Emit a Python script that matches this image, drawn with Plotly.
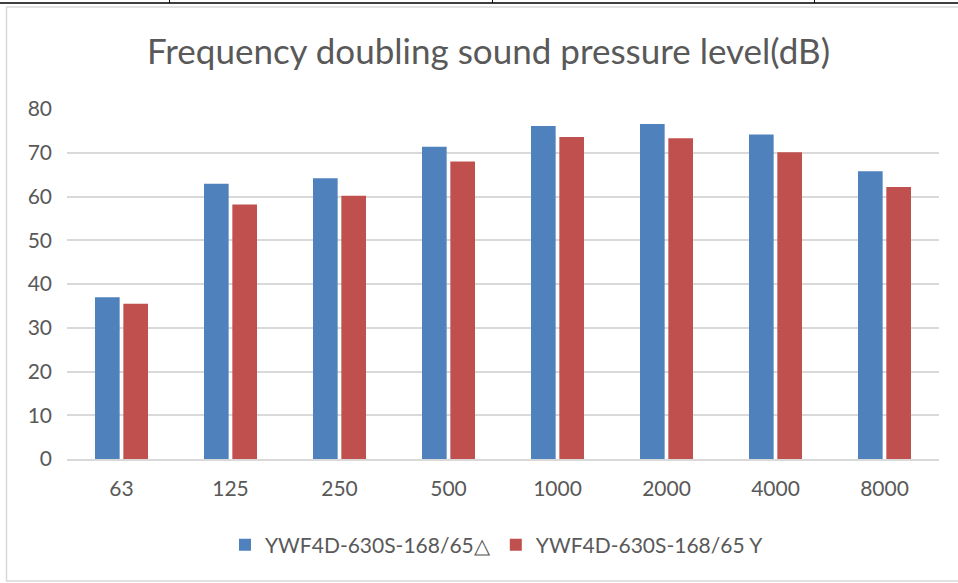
import plotly.graph_objects as go

categories = ["63", "125", "250", "500", "1000", "2000", "4000", "8000"]
series_a_name = "YWF4D-630S-168/65△"
series_b_name = "YWF4D-630S-168/65 Y"
series_a = [37.0, 62.9, 64.2, 71.4, 76.1, 76.6, 74.2, 65.8]
series_b = [35.5, 58.2, 60.2, 68.0, 73.6, 73.3, 70.1, 62.2]
y_ticks = [0, 10, 20, 30, 40, 50, 60, 70, 80]
title_text = "Frequency doubling sound pressure level(dB)"

W, H = 958, 583
L, R, T, B = 67, 19, 109, 124
FONT = "Lato"
GREY = "#595959"

fig = go.Figure()
fig.add_trace(go.Bar(x=categories, y=series_a, name=series_a_name,
                     marker=dict(color="#4F81BD", line=dict(width=0))))
fig.add_trace(go.Bar(x=categories, y=series_b, name=series_b_name,
                     marker=dict(color="#C0504D", line=dict(width=0))))

def px_x(p):
    return (p - L) / (W - L - R)

def px_y(p):
    return 1 - (p - T) / (H - T - B)

shapes = [
    dict(type="rect", xref="paper", yref="paper",
         x0=px_x(6.5), x1=px_x(962), y0=px_y(581), y1=px_y(7),
         line=dict(color="#d9d9d9", width=1.5), fillcolor="rgba(0,0,0,0)", layer="below"),
    dict(type="line", xref="paper", yref="paper",
         x0=px_x(0), x1=px_x(958), y0=px_y(3), y1=px_y(3),
         line=dict(color="#000000", width=1.5)),
]
for xp in [169.5, 492.5, 814.5]:
    shapes.append(dict(type="line", xref="paper", yref="paper",
                       x0=px_x(xp), x1=px_x(xp), y0=px_y(-1), y1=px_y(3),
                       line=dict(color="#000000", width=1)))

fig.update_layout(
    width=W, height=H,
    margin=dict(l=L, r=R, t=T, b=B, pad=0),
    paper_bgcolor="white", plot_bgcolor="white",
    barmode="group", bargap=0.48, bargroupgap=0.13,
    font=dict(family=FONT, color=GREY, size=20),
    showlegend=True,
    legend=dict(orientation="h", xanchor="center", yanchor="middle",
                x=px_x(497), y=px_y(545), font=dict(size=21, color=GREY),
                itemwidth=30, bgcolor="rgba(0,0,0,0)"),
    shapes=shapes,
    annotations=[dict(text=title_text, xref="paper", yref="paper",
                      x=px_x(488), y=px_y(50), xanchor="center", yanchor="middle",
                      showarrow=False, font=dict(size=35, color=GREY, family=FONT))],
)
fig.update_xaxes(showgrid=False, showline=True, linecolor="#d9d9d9", linewidth=1.5,
                 ticks="", tickfont=dict(size=21, color=GREY), ticklabelstandoff=10)
fig.update_yaxes(range=[0, 80], tickvals=y_ticks, showgrid=True, gridcolor="#d9d9d9",
                 gridwidth=1.5, zeroline=False, showline=False, ticks="",
                 tickfont=dict(size=21, color=GREY), ticklabelstandoff=14)

fig.write_html("out.html", config={"displayModeBar": False},
               post_script="document.body.style.margin='0';document.body.style.overflow='hidden';")
